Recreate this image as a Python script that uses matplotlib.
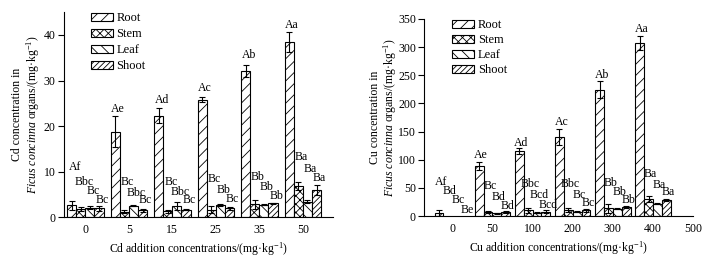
import numpy as np
import matplotlib
matplotlib.use("Agg")
import matplotlib.pyplot as plt

plt.rcParams['font.family'] = ['Liberation Serif', 'DejaVu Serif']
plt.rcParams['mathtext.fontset'] = 'custom'
plt.rcParams['mathtext.rm'] = 'Liberation Serif'
plt.rcParams['mathtext.it'] = 'Liberation Serif:italic'
plt.rcParams['hatch.linewidth'] = 0.6
plt.rcParams['font.size'] = 9

organs = ['Root', 'Stem', 'Leaf', 'Shoot']
hatches = ['///', 'xxxx', '\\\\\\', '//////']

# Cd panel
cd_levels = ['0', '5', '15', '25', '35', '50']
cd_root = [2.6, 18.8, 22.3, 25.8, 32.1, 38.4]
cd_stem = [1.8, 1.2, 1.3, 1.6, 2.8, 6.8]
cd_leaf = [2.1, 2.5, 2.5, 2.6, 2.7, 3.4]
cd_shoot = [1.9, 1.5, 1.6, 1.9, 3.0, 5.9]
cd_root_err = [1.0, 3.4, 1.6, 0.6, 1.4, 2.2]
cd_stem_err = [0.5, 0.3, 0.3, 0.8, 1.0, 0.9]
cd_leaf_err = [0.3, 0.1, 0.9, 0.2, 0.1, 0.3]
cd_shoot_err = [0.6, 0.3, 0.1, 0.4, 0.2, 1.1]
cd_letters = [['Af', 'Bbc', 'Bc', 'Bc'],
              ['Ae', 'Bc', 'Bbc', 'Bc'],
              ['Ad', 'Bc', 'Bbc', 'Bc'],
              ['Ac', 'Bc', 'Bb', 'Bc'],
              ['Ab', 'Bb', 'Bb', 'Bb'],
              ['Aa', 'Ba', 'Ba', 'Ba']]
# heights where the letters sit
cd_letter_y = [[11.0, 7.7, 5.8, 3.7],
               [23.8, 7.7, 5.3, 3.7],
               [25.7, 7.7, 5.5, 3.7],
               [28.3, 8.3, 5.9, 3.9],
               [35.5, 8.8, 6.6, 4.6],
               [42.3, 13.3, 10.6, 8.6]]

# Cu panel
cu_levels = ['0', '50', '100', '200', '300', '400', '500']
cu_root = [5.5, 89, 115, 141, 224, 307]
cu_stem = [np.nan, 7, 10, 11, 14, 30]
cu_leaf = [np.nan, 5, 6, 8, 13, 22]
cu_shoot = [np.nan, 7, 8, 10, 16, 29]
cu_root_err = [5, 7, 5, 14, 15, 12]
cu_stem_err = [np.nan, 2, 5, 3, 8, 5]
cu_leaf_err = [np.nan, 0.5, 0.5, 0.5, 1, 1]
cu_shoot_err = [np.nan, 2, 2, 2, 2, 2]
cu_letters = [['Af', 'Bd', 'Bc', 'Be'],
              ['Ae', 'Bc', 'Bd', 'Bd'],
              ['Ad', 'Bbc', 'Bcd', 'Bcd'],
              ['Ac', 'Bbc', 'Bc', 'Bc'],
              ['Ab', 'Bb', 'Bb', 'Bb'],
              ['Aa', 'Ba', 'Ba', 'Ba']]
cu_letter_y = [[60, 44, 28, 11],
               [109, 53, 33, 18],
               [130, 57, 37, 19],
               [167, 57, 37, 24],
               [250, 59, 43, 29],
               [333, 75, 55, 42]]


def draw_panel(ax, values, errors, letters, letter_y, width, shift):
    n = len(values[0])
    x = np.arange(n)
    for k in range(4):
        pos = x + (k - 1.5) * width
        ax.bar(pos, values[k], width, facecolor='white', edgecolor='black',
               linewidth=0.8, hatch=hatches[k], label=organs[k], zorder=2)
        ax.errorbar(pos, values[k], yerr=errors[k], fmt='none', ecolor='black',
                    elinewidth=0.8, capsize=2, capthick=0.8, zorder=3)
        for i in range(n):
            ax.text(pos[i] + shift, letter_y[i][k], letters[i][k],
                    ha='center', va='center', fontsize=8.5)
    for s in ['top', 'right']:
        ax.spines[s].set_visible(False)
    ax.tick_params(axis='y', direction='out', length=4, width=0.8, pad=2,
                   labelsize=8.5)
    ax.tick_params(axis='x', length=0, pad=5, labelsize=8.5)


fig = plt.figure(figsize=(7.19, 2.6), dpi=100)

ax1 = fig.add_axes([0.089, 0.165, 0.374, 0.788])
draw_panel(ax1, [cd_root, cd_stem, cd_leaf, cd_shoot],
           [cd_root_err, cd_stem_err, cd_leaf_err, cd_shoot_err],
           cd_letters, cd_letter_y, 0.21, 0.07)
ax1.set_xlim(-0.49, 5.69)
ax1.set_ylim(0, 45)
ax1.set_yticks([0, 10, 20, 30, 40])
ax1.set_xticks(np.arange(len(cd_levels)))
ax1.set_xticklabels(cd_levels)
ax1.set_xlabel('Cd addition concentrations/(mg·kg$^{-1}$)', labelpad=3,
               fontsize=8.5)
ax1.set_ylabel('Cd concentration in\n$\\mathit{Ficus\\ concinna}$ organs/(mg·kg$^{-1}$)',
               linespacing=1.05, fontsize=8.5)
ax1.yaxis.set_label_coords(-0.083, 0.5)
ax1.legend(loc='upper left', bbox_to_anchor=(0.10, 1.0), frameon=False,
           fontsize=9, handlelength=1.75, handleheight=0.6, labelspacing=0.32,
           handletextpad=0.3, borderaxespad=0, borderpad=0)

ax2 = fig.add_axes([0.590, 0.169, 0.374, 0.758])
draw_panel(ax2, [cu_root, cu_stem, cu_leaf, cu_shoot],
           [cu_root_err, cu_stem_err, cu_leaf_err, cu_shoot_err],
           cu_letters, cu_letter_y, 0.22, 0.05)
ax2.set_xlim(-0.7, 6.0)
ax2.set_ylim(0, 350)
ax2.set_yticks(np.arange(0, 351, 50))
ax2.set_xticks(np.arange(len(cu_levels)))
ax2.set_xticklabels(cu_levels)
ax2.set_xlabel('Cu addition concentrations/(mg·kg$^{-1}$)', labelpad=3,
               fontsize=8.5)
ax2.set_ylabel('Cu concentration in\n$\\mathit{Ficus\\ concinna}$ organs/(mg·kg$^{-1}$)',
               linespacing=1.05, fontsize=8.5)
ax2.yaxis.set_label_coords(-0.092, 0.5)
ax2.legend(loc='upper left', bbox_to_anchor=(0.105, 1.0), frameon=False,
           fontsize=9, handlelength=1.75, handleheight=0.6, labelspacing=0.25,
           handletextpad=0.3, borderaxespad=0, borderpad=0)

fig.savefig('out.png', dpi=100)
